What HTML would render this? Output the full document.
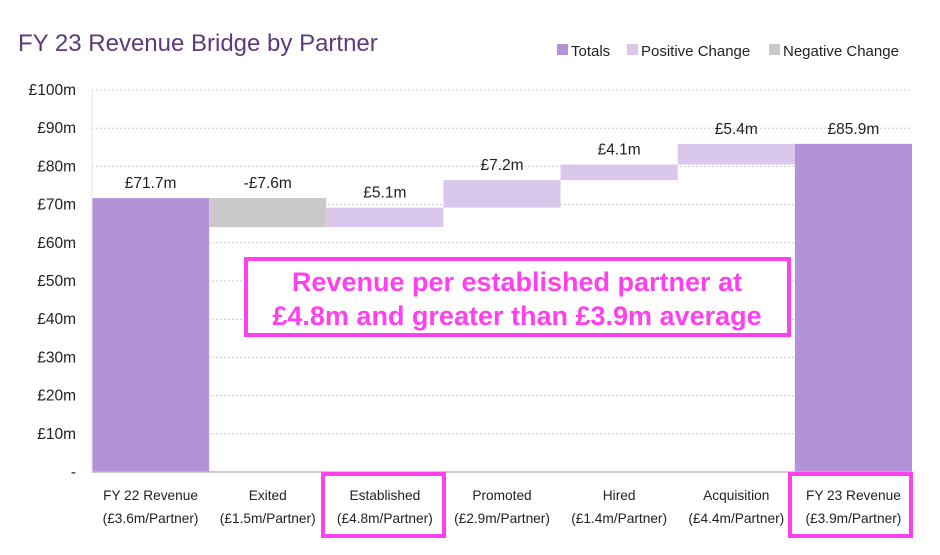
<!DOCTYPE html>
<html><head><meta charset="utf-8"><style>
body{margin:0;background:#fff;font-family:"Liberation Sans",sans-serif;}
svg text{font-family:"Liberation Sans",sans-serif;}
</style></head><body>
<svg width="940" height="550" viewBox="0 0 940 550">
<text x="18" y="51" font-size="24" fill="#5b3a7e">FY 23 Revenue Bridge by Partner</text>
<g font-size="15" fill="#222">
<rect x="557" y="44" width="11" height="11" fill="#b393d8"/>
<text x="571" y="56">Totals</text>
<rect x="627" y="44" width="11" height="11" fill="#d9c8ec"/>
<text x="641" y="56">Positive Change</text>
<rect x="769" y="44" width="11" height="11" fill="#c9c9c9"/>
<text x="783" y="56">Negative Change</text>
</g>
<g id="grid"></g><g id="bars"></g><g id="labels"></g>
<line x1="92" y1="472" x2="912" y2="472" stroke="#bbb" stroke-width="1.5"/>
<line x1="92" y1="90" x2="92" y2="472" stroke="#e6e6e6"/>
<rect x="246" y="259" width="543" height="76" fill="#fff" stroke="#ff40ee" stroke-width="4"/>
<text x="517" y="291" text-anchor="middle" font-size="27" font-weight="bold" fill="#ff40ee">Revenue per established partner at</text>
<text x="517" y="325" text-anchor="middle" font-size="27" font-weight="bold" fill="#ff40ee">£4.8m and greater than £3.9m average</text>
<rect x="323" y="474" width="121" height="62" fill="none" stroke="#ff40ee" stroke-width="4"/>
<rect x="790" y="474" width="121" height="62" fill="none" stroke="#ff40ee" stroke-width="4"/>
</svg>
<script>
const categories=["FY 22 Revenue","Exited","Established","Promoted","Hired","Acquisition","FY 23 Revenue"];
const subLabels=["(£3.6m/Partner)","(£1.5m/Partner)","(£4.8m/Partner)","(£2.9m/Partner)","(£1.4m/Partner)","(£4.4m/Partner)","(£3.9m/Partner)"];
const changes=[71.7,-7.6,5.1,7.2,4.1,5.4,85.9];
const valueLabels=["£71.7m","-£7.6m","£5.1m","£7.2m","£4.1m","£5.4m","£85.9m"];
const yTicks=[0,10,20,30,40,50,60,70,80,90,100];
const yTickLabels=["-","£10m","£20m","£30m","£40m","£50m","£60m","£70m","£80m","£90m","£100m"];
const NS="http://www.w3.org/2000/svg";
const x0=92,x1=912,yTop=90,yBot=472,yMax=100;
const y=v=>yBot-(v/yMax)*(yBot-yTop);
const bw=(x1-x0)/categories.length;
const xc=i=>x0+bw*i;
function mk(t,a,p){const e=document.createElementNS(NS,t);for(const k in a)e.setAttribute(k,a[k]);p.appendChild(e);return e;}
const grid=document.getElementById('grid'),bars=document.getElementById('bars'),labels=document.getElementById('labels');
yTicks.forEach((v,i)=>{
 if(v>0){const l=mk('line',{x1:x0,x2:x1,y1:y(v),y2:y(v),stroke:'#ccc','stroke-dasharray':'2,2'},grid);
 
 }
 const t=mk('text',{x:76,y:y(v)+5,'text-anchor':'end','font-size':15.5,fill:'#222'},grid);t.textContent=yTickLabels[i];
 
 
});
let run=0;
changes.forEach((c,i)=>{
 let lo,hi,fill;
 if(i===0||i===changes.length-1){lo=0;hi=c;run=c;fill='#b393d8';}
 else{const a=run,b=run+c;lo=Math.min(a,b);hi=Math.max(a,b);run=b;fill=c<0?'#c9c9c9':'#d9c8ec';}
 const r=mk('rect',{x:xc(i),y:y(hi),width:bw,height:y(lo)-y(hi),fill:fill},bars);
 
 
 const t=mk('text',{x:xc(i)+bw/2,y:y(hi)-10,'text-anchor':'middle','font-size':15.5,fill:'#222'},labels);t.textContent=valueLabels[i];
 
 
 const c1=mk('text',{x:xc(i)+bw/2,y:500,'text-anchor':'middle','font-size':13.7,fill:'#222'},labels);c1.textContent=categories[i];
 
 
 const c2=mk('text',{x:xc(i)+bw/2,y:523,'text-anchor':'middle','font-size':13.7,fill:'#222'},labels);c2.textContent=subLabels[i];
 
 
});
</script>
</body></html>
